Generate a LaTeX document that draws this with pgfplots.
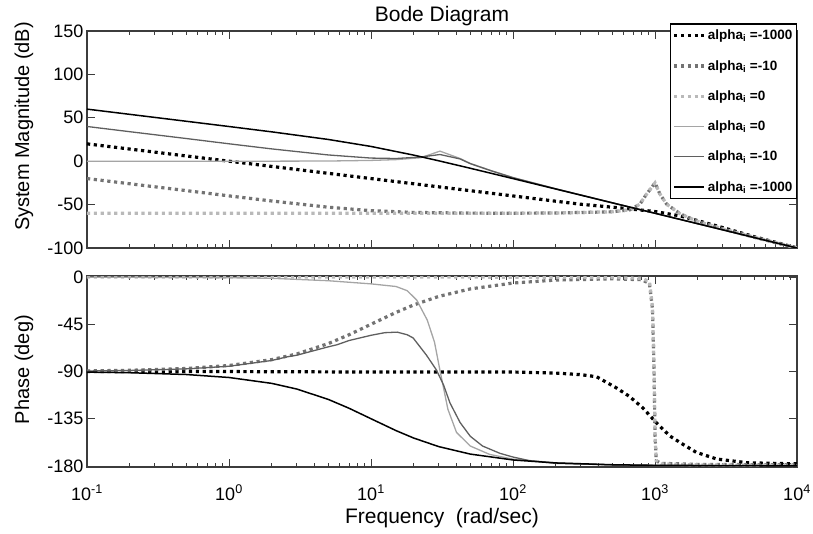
\documentclass[border=0pt]{standalone}
\usepackage{fontspec}
\setmainfont{Liberation Sans}
\usepackage{pgfplots}
\pgfplotsset{compat=1.18}
\definecolor{dgray}{RGB}{115,115,115}
\definecolor{lgray}{RGB}{185,185,185}
\definecolor{lsolid}{RGB}{165,165,165}
\definecolor{msolid}{RGB}{95,95,95}
\definecolor{axcol}{RGB}{60,60,60}
\begin{document}
\begin{tikzpicture}
\path[use as bounding box] (-87pt,-66pt) rectangle (726pt,467pt);
\pgfplotsset{
  bode/.style={
    scale only axis, width=710pt,
    xmin=0.1, xmax=10000,
    xtick={0.1,1,10,100,1000,10000},
    minor xtick={0.2,0.3,0.4,0.5,0.6,0.7,0.8,0.9,2,3,4,5,6,7,8,9,20,30,40,50,60,70,80,90,200,300,400,500,600,700,800,900,2000,3000,4000,5000,6000,7000,8000,9000},
    xtick pos=both, ytick pos=both,
    xticklabel pos=lower, yticklabel pos=left,
    major tick length=8pt, minor tick length=4pt,
    every tick/.style={axcol, line width=0.9pt},
    minor tick style={axcol, line width=0.8pt},
    axis line style={axcol, line width=1.1pt},
    tick label style={font=\fontsize{18}{20}\selectfont},
    /pgf/number format/assume math mode=true,
    label style={font=\fontsize{20}{23}\selectfont},
    dotA/.style={black, line width=3.2pt, dash pattern=on 3.2pt off 3.6pt},
    dotB/.style={dgray, line width=3.2pt, dash pattern=on 3.2pt off 3.6pt},
    dotC/.style={lgray, line width=3.2pt, dash pattern=on 3.2pt off 3.6pt},
    solD/.style={lsolid, line width=1.3pt},
    solE/.style={msolid, line width=1.3pt},
    solF/.style={black, line width=1.5pt},
  }
}
% ---------------- magnitude ----------------
\begin{semilogxaxis}[bode, at={(0pt,219pt)}, anchor=south west, height=217pt,
  ymin=-100, ymax=150, ytick={-100,-50,0,50,100,150},
  xticklabels={},
  ylabel={System Magnitude (dB)},
  ylabel style={at={(axis description cs:-0.0887,0.56)}, anchor=center},
  title={Bode Diagram},
  title style={at={(axis description cs:0.5,1)}, anchor=base, yshift=3pt, font=\fontsize{21}{24}\selectfont},
  legend cell align=left,
  legend image code/.code={\draw[#1] (0pt,0pt) -- (30pt,0pt);},
  legend style={at={(axis description cs:1,1.035)}, anchor=north east, draw=black, line width=1.3pt,
    font=\fontsize{13.5}{15}\selectfont\bfseries, row sep=15pt, inner xsep=2pt, inner ysep=4pt,
    /tikz/every even column/.append style={column sep=0pt}},
]
\addplot[dotA] coordinates {(0.1,20) (0.2,13.98) (0.5,6.02) (1,0) (2,-6.02) (5,-13.98) (10,-20) (20,-26.02) (50,-33.98) (100,-40.02) (200,-46.1) (300,-49.6) (600,-54.2) (1000,-58) (1500,-63) (2000,-68.5) (3000,-76.5) (5000,-87) (10000,-100)};
\addlegendentry{alpha\textsubscript{i} =-1000}
\addplot[dotB] coordinates {(0.1,-20) (0.2,-26) (0.5,-33.87) (1,-39.96) (2,-45.85) (5,-53) (10,-57) (20,-59.03) (50,-59.83) (100,-59.9) (200,-59.7) (500,-58.3) (667,-56) (783,-49.5) (871,-38) (944,-30.5) (1000,-25) (1084,-38) (1208,-49.5) (1500,-60.5) (2000,-69.5) (3000,-78) (5000,-87.6) (10000,-100)};
\addlegendentry{alpha\textsubscript{i} =-10}
\addplot[dotC] coordinates {(0.1,-60) (1,-60) (10,-60) (100,-59.9) (200,-59.7) (500,-58.3) (667,-56) (783,-49.5) (871,-38) (944,-30.5) (1000,-25) (1084,-38) (1208,-49.5) (1500,-60.5) (2000,-69.5) (3000,-78) (5000,-87.6) (10000,-100)};
\addlegendentry{alpha\textsubscript{i} =0}
\addplot[solD] coordinates {(0.1,0) (1,0.01) (2,0.03) (5,0.2) (10,0.9) (15,1.8) (22.4,4) (30.6,11.6) (42.4,3.1) (50,-2.6) (70,-10.8) (100,-18.8) (200,-31.8) (500,-47.9) (1000,-60) (2000,-72.04) (5000,-87.96) (10000,-100)};
\addlegendentry{alpha\textsubscript{i} =0}
\addplot[solE] coordinates {(0.1,40) (0.2,33.99) (0.5,26.13) (1,20.05) (2,14.17) (5,7.2) (10,3.6) (15,3.1) (22.4,4.8) (30.6,7.7) (42.4,2.6) (50,-2.8) (70,-11) (100,-19) (200,-31.8) (500,-47.9) (1000,-60) (2000,-72.04) (5000,-87.96) (10000,-100)};
\addlegendentry{alpha\textsubscript{i} =-10}
\addplot[solF] coordinates {(0.1,60) (0.2,53.98) (0.5,46.01) (1,39.96) (2,33.81) (5,25.05) (10,16.99) (20,6.99) (30,0.46) (50,-8.13) (100,-20.04) (200,-32.05) (500,-47.96) (1000,-60) (2000,-72.04) (5000,-87.96) (10000,-100)};
\addlegendentry{alpha\textsubscript{i} =-1000}
\end{semilogxaxis}
% ---------------- phase ----------------
\begin{semilogxaxis}[bode, at={(0pt,0pt)}, anchor=south west, height=191pt,
  ymin=-181, ymax=1, ytick={-180,-135,-90,-45,0},
  xticklabels={10\textsuperscript{-1},10\textsuperscript{0},10\textsuperscript{1},10\textsuperscript{2},10\textsuperscript{3},10\textsuperscript{4}},
  xticklabel style={anchor=base, yshift=-33pt},
  xlabel={Frequency\ \ (rad/sec)},
  xlabel style={at={(axis description cs:0.5,0)}, anchor=base, yshift=-56pt, font=\fontsize{21}{24}\selectfont},
  ylabel={Phase (deg)},
  ylabel style={at={(axis description cs:-0.0887,0.51)}, anchor=center},
]
\addplot[dotA] coordinates {(0.1,-90) (1,-90.06) (10,-90.5) (100,-90.5) (200,-91.5) (300,-93) (388,-95) (534,-105.6) (660,-113.7) (820,-124.6) (1020,-138.7) (1270,-151.4) (1570,-159.3) (1950,-167) (2720,-173.4) (4500,-177) (10000,-178)};
\addplot[dotB] coordinates {(0.1,-89.43) (0.2,-88.85) (0.5,-87.14) (1,-84.29) (2,-78.69) (3,-73.3) (5,-63.43) (7,-55) (10,-45) (15,-33.69) (20,-26.57) (30,-18.43) (50,-11.31) (100,-5.71) (200,-2.86) (500,-1.7) (800,-2.5) (913,-6) (960,-30) (985,-90) (1000,-150) (1020,-175) (1100,-177.5) (2000,-178.5) (10000,-179)};
\addplot[dotC] coordinates {(0.1,0) (100,-0.1) (500,-0.5) (800,-1.2) (913,-4) (960,-28) (985,-90) (1000,-150) (1020,-175) (1100,-178) (2000,-179) (10000,-179.5)};
\addplot[solD] coordinates {(0.1,-0.1) (1,-0.6) (2,-1.2) (5,-3.5) (10,-6.5) (15,-9) (18,-13) (21,-22) (24.9,-41) (28,-62) (30.6,-89) (34.8,-126) (40,-148) (50,-161) (68.5,-169) (100,-173.5) (200,-177) (500,-179) (1000,-179.5) (10000,-180)};
\addplot[solE] coordinates {(0.1,-89.5) (0.2,-89) (0.5,-87.5) (1,-85) (2,-79.5) (2.57,-76) (3,-74.5) (5,-66.5) (5.77,-64.5) (7,-60.5) (10,-55.5) (12.5,-53) (15.3,-52.5) (18,-55) (19.8,-58) (24.6,-74.5) (28.9,-88.6) (32.4,-102.7) (36,-120) (42.4,-138.6) (50,-151.7) (61,-161) (81,-168) (100,-171.5) (131,-175) (200,-177.5) (500,-179) (1000,-179.5) (10000,-180)};
\addplot[solF] coordinates {(0.1,-90.57) (0.2,-91.15) (0.5,-92.86) (1,-95.71) (2,-101.31) (3,-106.7) (5,-116.57) (7,-124.99) (10,-135) (15,-146.31) (20,-153.43) (30,-161.57) (50,-168.69) (100,-174.29) (200,-177.14) (500,-178.85) (1000,-179.43) (10000,-179.94)};
\end{semilogxaxis}
\end{tikzpicture}
\end{document}
